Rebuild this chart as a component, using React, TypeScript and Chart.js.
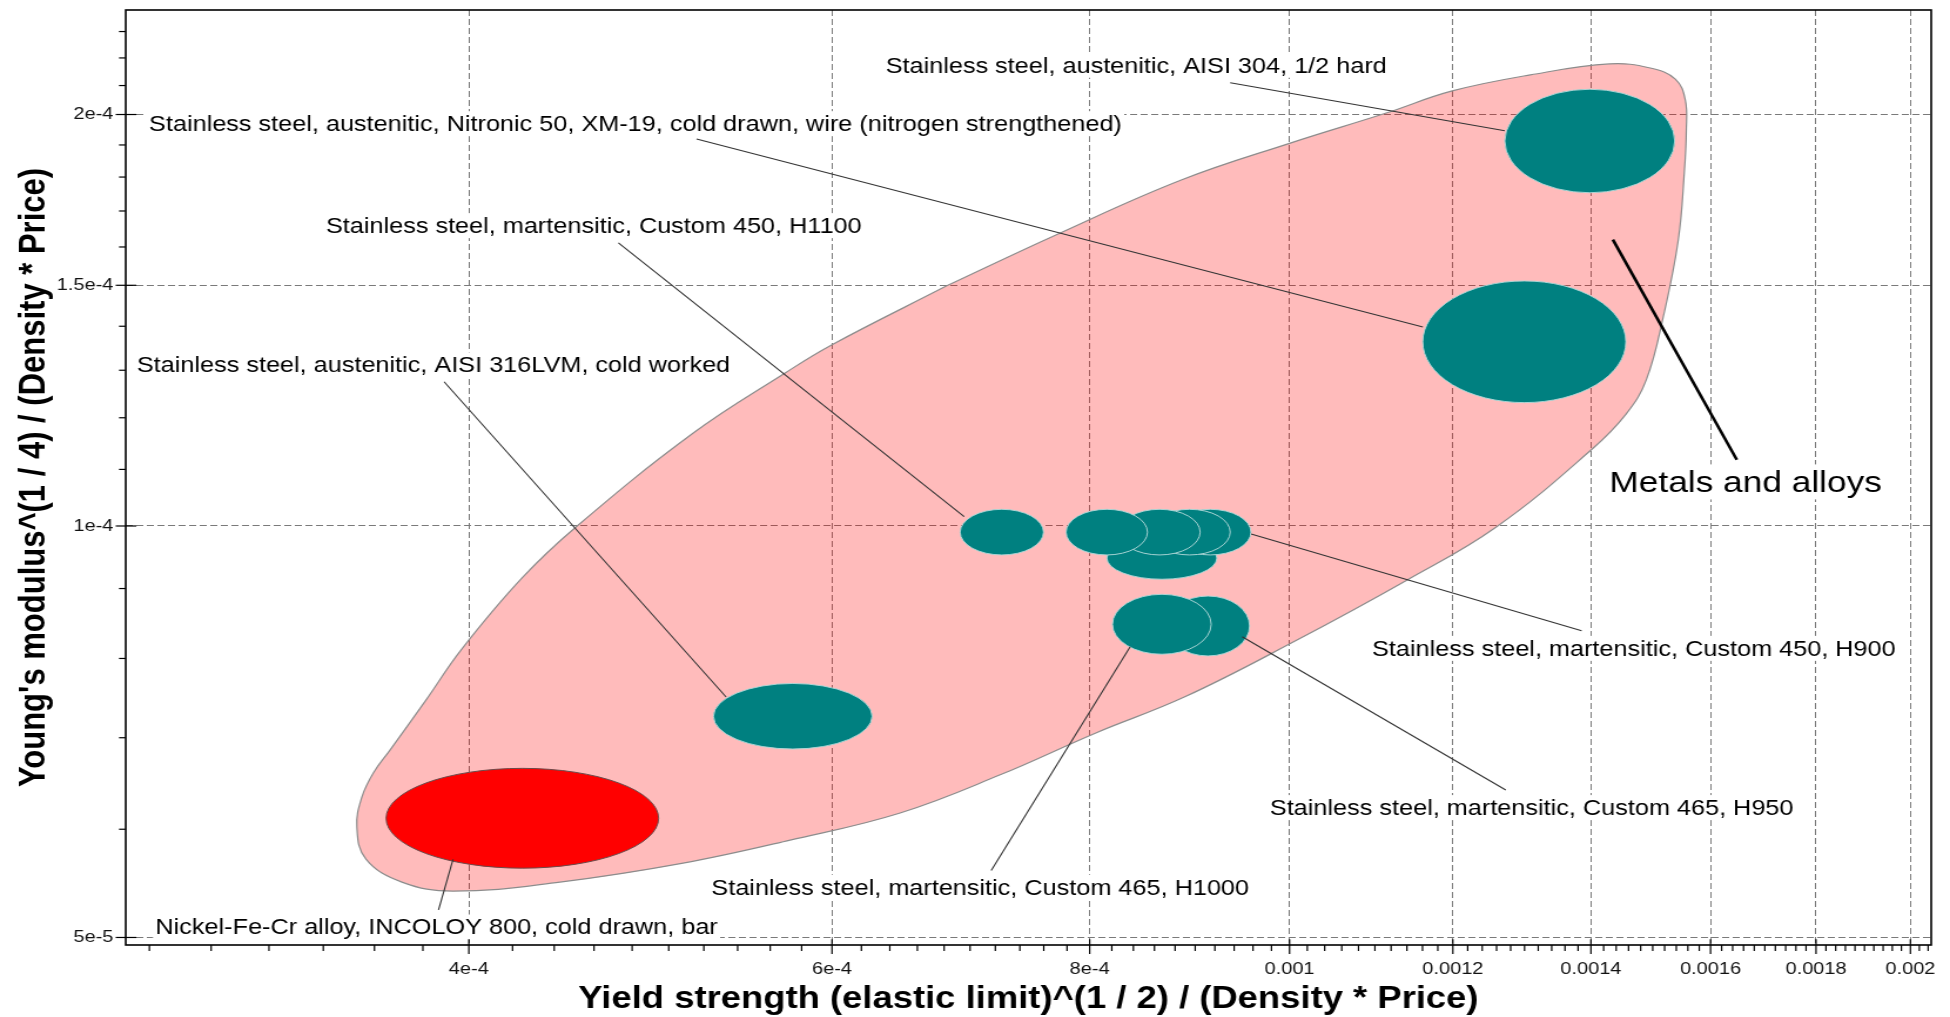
import { useEffect, useRef } from 'react';
import { Chart, registerables } from 'chart.js';

Chart.register(...registerables);

// ---------- axes ----------
const xRange = [2.727e-4, 2.047e-3];
const yRange = [4.937e-5, 2.385e-4];
const xTickValues = [4e-4, 6e-4, 8e-4, 0.001, 0.0012, 0.0014, 0.0016, 0.0018, 0.002];
const xTickLabels = ['4e-4', '6e-4', '8e-4', '0.001', '0.0012', '0.0014', '0.0016', '0.0018', '0.002'];
const yTickValues = [5e-5, 1e-4, 1.5e-4, 2e-4];
const yTickLabels = ['5e-5', '1e-4', '1.5e-4', '2e-4'];
const xMinorStep = 2e-5;
const yMinorStep = 1e-5;
const xTitle = 'Yield strength (elastic limit)^(1 / 2) / (Density * Price)';
const yTitle = "Young's modulus^(1 / 4) / (Density * Price)";

// ---------- "Metals and alloys" envelope (closed outline) ----------
const envelopeX = [
  6.816e-4, 7.699e-4, 8.861e-4, 1.0008e-3, 1.1140e-3, 1.1992e-3, 1.3084e-3, 1.4291e-3,
  1.4959e-3, 1.5383e-3, 1.5555e-3, 1.5573e-3, 1.5538e-3, 1.5434e-3, 1.5177e-3, 1.4892e-3,
  1.4563e-3, 1.4006e-3, 1.2596e-3, 1.1404e-3, 1.0019e-3, 8.891e-4, 8.050e-4, 7.239e-4,
  6.474e-4, 5.726e-4, 5.081e-4, 4.428e-4, 3.930e-4, 3.712e-4, 3.566e-4, 3.530e-4,
  3.550e-4, 3.598e-4, 3.663e-4, 3.813e-4, 3.965e-4, 4.245e-4, 4.514e-4, 5.141e-4,
  5.694e-4, 5.994e-4, 6.816e-4,
];
const envelopeY = [
  1.498e-4, 1.632e-4, 1.791e-4, 1.906e-4, 2.005e-4, 2.081e-4, 2.138e-4, 2.178e-4,
  2.163e-4, 2.123e-4, 2.050e-4, 1.948e-4, 1.813e-4, 1.619e-4, 1.422e-4, 1.279e-4,
  1.208e-4, 1.137e-4, 9.983e-5, 9.131e-5, 8.210e-5, 7.496e-5, 7.054e-5, 6.576e-5,
  6.167e-5, 5.891e-5, 5.667e-5, 5.489e-5, 5.406e-5, 5.489e-5, 5.706e-5, 6.022e-5,
  6.335e-5, 6.608e-5, 6.856e-5, 7.458e-5, 8.114e-5, 9.162e-5, 1.0e-4, 1.170e-4,
  1.294e-4, 1.356e-4, 1.498e-4,
];

// ---------- material property ranges (drawn in this order) ----------
const materialNames = [
  'Stainless steel, martensitic (a)',
  'Stainless steel, martensitic, Custom 450, H900',
  'Stainless steel, martensitic (b)',
  'Stainless steel, martensitic (c)',
  'Stainless steel, martensitic (d)',
  'Stainless steel, martensitic, Custom 450, H1100',
  'Stainless steel, martensitic, Custom 465, H950',
  'Stainless steel, martensitic, Custom 465, H1000',
  'Stainless steel, austenitic, AISI 304, 1/2 hard',
  'Stainless steel, austenitic, Nitronic 50, XM-19, cold drawn, wire (nitrogen strengthened)',
  'Stainless steel, austenitic, AISI 316LVM, cold worked',
  'Nickel-Fe-Cr alloy, INCOLOY 800, cold drawn, bar',
];
const matXLow = [8.155e-4, 8.746e-4, 8.547e-4, 8.265e-4, 7.792e-4, 6.923e-4, 8.713e-4, 8.206e-4, 1.2716e-3, 1.1603e-3, 5.256e-4, 3.647e-4];
const matXHigh = [9.221e-4, 9.578e-4, 9.359e-4, 9.050e-4, 8.533e-4, 7.598e-4, 9.564e-4, 9.162e-4, 1.5373e-3, 1.4557e-3, 6.275e-4, 4.944e-4];
const matYLow = [9.142e-5, 9.524e-5, 9.524e-5, 9.524e-5, 9.524e-5, 9.524e-5, 8.034e-5, 8.057e-5, 1.753e-4, 1.231e-4, 6.868e-5, 5.619e-5];
const matYHigh = [9.817e-5, 1.0285e-4, 1.0285e-4, 1.0285e-4, 1.0285e-4, 1.0285e-4, 8.887e-5, 8.913e-5, 2.087e-4, 1.511e-4, 7.670e-5, 6.648e-5];
const matHighlighted = [false, false, false, false, false, false, false, false, false, false, false, true];

// ---------- annotations ----------
const labelTexts = [
  'Stainless steel, austenitic, AISI 304, 1/2 hard',
  'Stainless steel, austenitic, Nitronic 50, XM-19, cold drawn, wire (nitrogen strengthened)',
  'Stainless steel, martensitic, Custom 450, H1100',
  'Stainless steel, austenitic, AISI 316LVM, cold worked',
  'Nickel-Fe-Cr alloy, INCOLOY 800, cold drawn, bar',
  'Stainless steel, martensitic, Custom 450, H900',
  'Stainless steel, martensitic, Custom 465, H950',
  'Stainless steel, martensitic, Custom 465, H1000',
];
const labelX = [6.370e-4, 2.799e-4, 3.410e-4, 2.761e-4, 2.819e-4, 1.0965e-3, 9.783e-4, 5.244e-4];
const labelY = [2.175e-4, 1.971e-4, 1.660e-4, 1.313e-4, 5.093e-5, 8.144e-5, 6.228e-5, 5.446e-5];
const leaderX1 = [9.359e-4, 5.158e-4, 4.727e-4, 3.891e-4, 3.867e-4, 9.580e-4, 9.485e-4, 8.370e-4];
const leaderY1 = [2.110e-4, 1.919e-4, 1.611e-4, 1.275e-4, 5.237e-5, 9.866e-5, 8.298e-5, 8.160e-5];
const leaderX2 = [1.2716e-3, 1.1605e-3, 6.954e-4, 5.331e-4, 3.930e-4, 1.3855e-3, 1.2730e-3, 7.167e-4];
const leaderY2 = [1.946e-4, 1.398e-4, 1.016e-4, 7.497e-5, 5.703e-5, 8.383e-5, 6.410e-5, 5.597e-5];

const groupLabel = 'Metals and alloys';
const groupLabelPos = [1.4293e-3, 1.078e-4];
const groupLeader = [1.4347e-3, 1.620e-4, 1.6476e-3, 1.118e-4];

// ---------- style ----------
const FONT = '"Liberation Sans", Arial, Helvetica, sans-serif';
const CANVAS_W = 1660;
const CANVAS_H = 1017;
const TEAL = '#008080';
const RED = '#ff0000';

const overlayPlugin = {
  id: 'overlay',
  afterDatasetsDraw(chart: any) {
    const { ctx, chartArea, scales } = chart;
    const xs = scales.x;
    const ys = scales.y;
    ctx.save();
    ctx.beginPath();
    ctx.rect(chartArea.left, chartArea.top, chartArea.right - chartArea.left, chartArea.bottom - chartArea.top);
    ctx.clip();

    // material ellipses
    for (let i = 0; i < materialNames.length; i++) {
      const x1 = xs.getPixelForValue(matXLow[i]);
      const x2 = xs.getPixelForValue(matXHigh[i]);
      const y1 = ys.getPixelForValue(matYHigh[i]);
      const y2 = ys.getPixelForValue(matYLow[i]);
      ctx.beginPath();
      ctx.ellipse((x1 + x2) / 2, (y1 + y2) / 2, Math.abs(x2 - x1) / 2, Math.abs(y2 - y1) / 2, 0, 0, Math.PI * 2);
      ctx.fillStyle = matHighlighted[i] ? RED : TEAL;
      ctx.fill();
      ctx.lineWidth = 1;
      ctx.strokeStyle = matHighlighted[i] ? '#6a4a4a' : 'rgba(175,215,215,0.95)';
      ctx.stroke();
    }

    // leader lines
    ctx.strokeStyle = '#333';
    ctx.lineWidth = 1.1;
    for (let i = 0; i < labelTexts.length; i++) {
      ctx.beginPath();
      ctx.moveTo(xs.getPixelForValue(leaderX1[i]), ys.getPixelForValue(leaderY1[i]));
      ctx.lineTo(xs.getPixelForValue(leaderX2[i]), ys.getPixelForValue(leaderY2[i]));
      ctx.stroke();
    }
    ctx.strokeStyle = '#000';
    ctx.lineWidth = 2.6;
    ctx.beginPath();
    ctx.moveTo(xs.getPixelForValue(groupLeader[0]), ys.getPixelForValue(groupLeader[1]));
    ctx.lineTo(xs.getPixelForValue(groupLeader[2]), ys.getPixelForValue(groupLeader[3]));
    ctx.stroke();

    // labels with white background
    ctx.textBaseline = 'middle';
    ctx.textAlign = 'left';
    ctx.font = `21.5px ${FONT}`;
    for (let i = 0; i < labelTexts.length; i++) {
      const px = xs.getPixelForValue(labelX[i]);
      const py = ys.getPixelForValue(labelY[i]);
      const w = ctx.measureText(labelTexts[i]).width;
      ctx.fillStyle = '#fff';
      ctx.fillRect(px - 2, py - 12, w + 4, 25);
      ctx.fillStyle = '#000';
      ctx.fillText(labelTexts[i], px, py + 2);
    }
    ctx.font = `30px ${FONT}`;
    {
      const px = xs.getPixelForValue(groupLabelPos[0]);
      const py = ys.getPixelForValue(groupLabelPos[1]);
      const w = ctx.measureText(groupLabel).width;
      ctx.fillStyle = '#fff';
      ctx.fillRect(px - 3, py - 17, w + 6, 35);
      ctx.fillStyle = '#000';
      ctx.fillText(groupLabel, px, py + 2);
    }
    ctx.restore();
  },
  afterDraw(chart: any) {
    const { ctx, chartArea, scales } = chart;
    const xs = scales.x;
    const ys = scales.y;
    const { left, right, top, bottom } = chartArea;
    ctx.save();
    ctx.strokeStyle = '#000';
    ctx.lineWidth = 1.2;
    // x ticks
    for (const v of xTickValues) {
      const px = xs.getPixelForValue(v);
      ctx.beginPath();
      ctx.moveTo(px, bottom - 5.7);
      ctx.lineTo(px, bottom + 9);
      ctx.stroke();
    }
    for (let k = 1; k * xMinorStep <= xRange[1]; k++) {
      const v = k * xMinorStep;
      if (v < xRange[0] || k % 10 === 0) continue;
      const px = xs.getPixelForValue(v);
      ctx.beginPath();
      ctx.moveTo(px, bottom);
      ctx.lineTo(px, bottom + 6);
      ctx.stroke();
    }
    // y ticks
    for (const v of yTickValues) {
      const py = ys.getPixelForValue(v);
      ctx.beginPath();
      ctx.moveTo(left - 8.5, py);
      ctx.lineTo(left + 9.1, py);
      ctx.stroke();
    }
    for (let k = 1; k * yMinorStep <= yRange[1]; k++) {
      const v = k * yMinorStep;
      if (v < yRange[0] || k % 5 === 0) continue;
      const py = ys.getPixelForValue(v);
      ctx.beginPath();
      ctx.moveTo(left - 5.7, py);
      ctx.lineTo(left, py);
      ctx.stroke();
    }
    // frame
    ctx.lineWidth = 1.6;
    ctx.strokeRect(left, top, right - left, bottom - top);
    ctx.restore();
  },
};

const zeroPadding = (axis: any) => {
  axis.paddingTop = 0;
  axis.paddingBottom = 0;
  axis.paddingLeft = 0;
  axis.paddingRight = 0;
};

export default function App() {
  const ref = useRef<HTMLCanvasElement>(null);
  useEffect(() => {
    if (!ref.current) return;
    const envelope = envelopeX.map((x, i) => ({ x, y: envelopeY[i] }));
    const chart = new Chart(ref.current, {
      type: 'scatter',
      data: {
        datasets: [
          {
            type: 'line',
            label: 'Metals and alloys',
            data: envelope,
            fill: 'shape',
            backgroundColor: 'rgba(255,0,0,0.267)',
            borderColor: '#8c8c8c',
            borderWidth: 1.2,
            pointRadius: 0,
            tension: 0.4,
          } as any,
        ],
      },
      options: {
        responsive: false,
        animation: false,
        devicePixelRatio: 1,
        layout: { padding: { left: 0, top: 10, right: 16, bottom: 0 } },
        plugins: { legend: { display: false }, tooltip: { enabled: false } },
        scales: {
          x: {
            type: 'logarithmic',
            min: xRange[0],
            max: xRange[1],
            afterBuildTicks: (axis: any) => {
              axis.ticks = xTickValues.map((v) => ({ value: v }));
            },
            afterFit: (axis: any) => {
              axis.height = 72;
              zeroPadding(axis);
            },
            ticks: {
              autoSkip: false,
              maxRotation: 0,
              padding: 14.5,
              color: '#111',
              font: { family: FONT, size: 17 },
              callback: (_v: any, i: number) => xTickLabels[i],
            },
            grid: { color: '#7a7a7a', lineWidth: 1, drawTicks: false },
            border: { display: false, dash: [6, 3] },
            title: {
              display: true,
              text: xTitle,
              color: '#000',
              font: { family: FONT, size: 31, weight: 'bold', lineHeight: 1.04 },
              padding: { top: 0, bottom: 1 },
            },
          },
          y: {
            type: 'logarithmic',
            min: yRange[0],
            max: yRange[1],
            afterBuildTicks: (axis: any) => {
              axis.ticks = yTickValues.map((v) => ({ value: v }));
            },
            afterFit: (axis: any) => {
              axis.width = 107;
              zeroPadding(axis);
            },
            ticks: {
              autoSkip: false,
              padding: 10.5,
              color: '#111',
              font: { family: FONT, size: 17 },
              callback: (_v: any, i: number) => yTickLabels[i],
            },
            grid: { color: '#7a7a7a', lineWidth: 1, drawTicks: false },
            border: { display: false, dash: [6, 3] },
            title: {
              display: true,
              text: yTitle,
              color: '#000',
              font: { family: FONT, size: 31, weight: 'bold' },
              padding: { top: 11, bottom: 0 },
            },
          },
        },
      } as any,
      plugins: [overlayPlugin],
    });
    return () => chart.destroy();
  }, []);

  return (
    <div style={{ position: 'absolute', left: 0, top: 0, width: 1950, height: CANVAS_H, background: '#fff', overflow: 'hidden' }}>
      <canvas
        ref={ref}
        width={CANVAS_W}
        height={CANVAS_H}
        style={{ display: 'block', width: '1950px', height: `${CANVAS_H}px` }}
      />
    </div>
  );
}
